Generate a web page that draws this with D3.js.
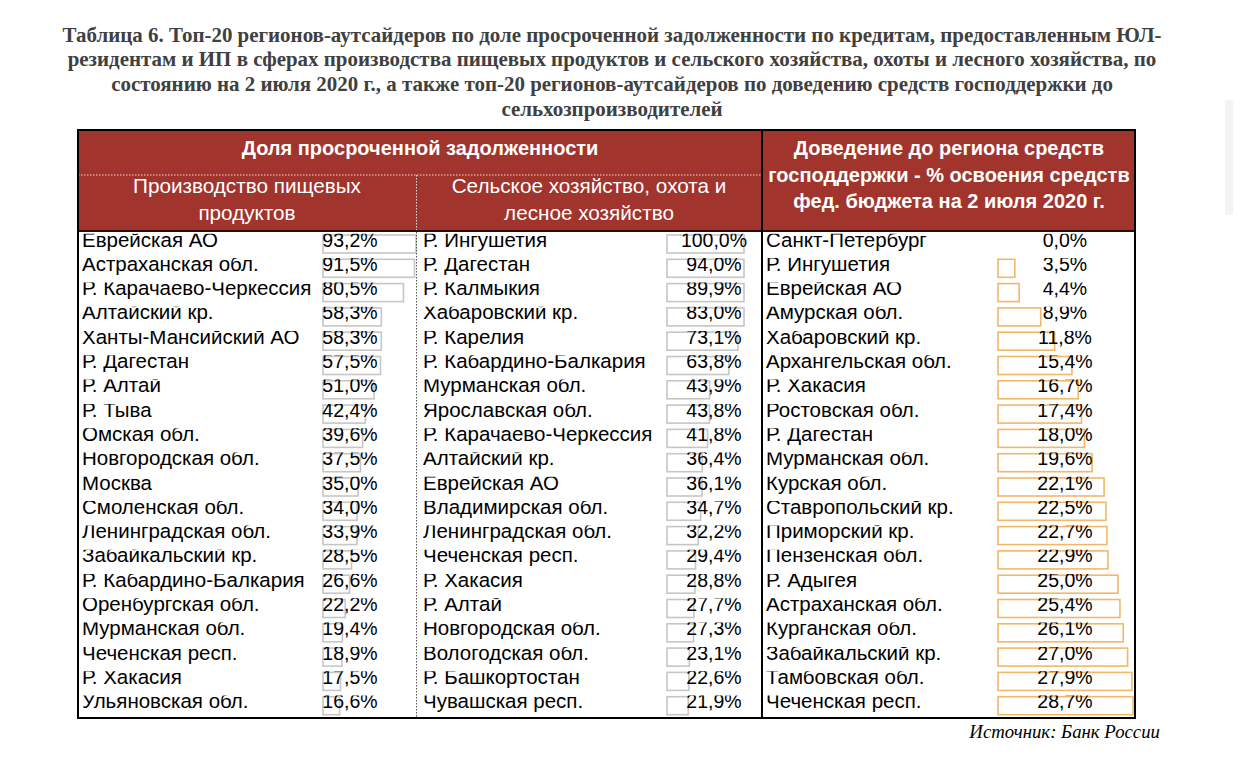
<!DOCTYPE html>
<html><head><meta charset="utf-8">
<script src="https://cdn.jsdelivr.net/npm/d3@7"></script>
<style>body{margin:0;background:#fff;overflow:hidden}</style>
</head><body>
<svg id="c" width="1242" height="774"></svg>
<script>
const titleLines = [
  "Таблица 6. Топ-20 регионов-аутсайдеров по доле просроченной задолженности по кредитам, предоставленным ЮЛ-",
  "резидентам и ИП в сферах производства пищевых продуктов и сельского хозяйства, охоты и лесного хозяйства, по",
  "состоянию на 2 июля 2020 г., а также топ-20 регионов-аутсайдеров по доведению средств господдержки до",
  "сельхозпроизводителей"
];
const groupHeader = "Доля просроченной задолженности";
const foodHeader = ["Производство пищевых", "продуктов"];
const agriHeader = ["Сельское хозяйство, охота и", "лесное хозяйство"];
const supportHeader = ["Доведение до региона средств", "господдержки - % освоения средств", "фед. бюджета на 2 июля 2020 г."];
const sourceText = "Источник: Банк России";

const foodRegions = ["Еврейская АО","Астраханская обл.","Р. Карачаево-Черкессия","Алтайский кр.","Ханты-Мансийский АО","Р. Дагестан","Р. Алтай","Р. Тыва","Омская обл.","Новгородская обл.","Москва","Смоленская обл.","Ленинградская обл.","Забайкальский кр.","Р. Кабардино-Балкария","Оренбургская обл.","Мурманская обл.","Чеченская респ.","Р. Хакасия","Ульяновская обл."];
const foodValues = [93.2,91.5,80.5,58.3,58.3,57.5,51.0,42.4,39.6,37.5,35.0,34.0,33.9,28.5,26.6,22.2,19.4,18.9,17.5,16.6];

const agriRegions = ["Р. Ингушетия","Р. Дагестан","Р. Калмыкия","Хабаровский кр.","Р. Карелия","Р. Кабардино-Балкария","Мурманская обл.","Ярославская обл.","Р. Карачаево-Черкессия","Алтайский кр.","Еврейская  АО","Владимирская обл.","Ленинградская обл.","Чеченская респ.","Р. Хакасия","Р. Алтай","Новгородская обл.","Вологодская обл.","Р. Башкортостан","Чувашская респ."];
const agriValues = [100.0,94.0,89.9,83.0,73.1,63.8,43.9,43.8,41.8,36.4,36.1,34.7,32.2,29.4,28.8,27.7,27.3,23.1,22.6,21.9];

const supportRegions = ["Санкт-Петербург","Р. Ингушетия","Еврейская АО","Амурская обл.","Хабаровский кр.","Архангельская обл.","Р. Хакасия","Ростовская обл.","Р. Дагестан","Мурманская обл.","Курская обл.","Ставропольский кр.","Приморский кр.","Пензенская обл.","Р. Адыгея","Астраханская обл.","Курганская обл.","Забайкальский кр.","Тамбовская обл.","Чеченская респ."];
const supportValues = [0.0,3.5,4.4,8.9,11.8,15.4,16.7,17.4,18.0,19.6,22.1,22.5,22.7,22.9,25.0,25.4,26.1,27.0,27.9,28.7];

const svg = d3.select("#c");
const RED = "#a1342c";
const L = 78, R = 1135, T = 130, HB = 232, B = 718, D1 = 416.5, D2 = 762, H1 = 175;
const sans = "'Liberation Sans', Arial, sans-serif";
const serif = "'Liberation Serif', 'Times New Roman', serif";

// title
const tt = svg.append("g").selectAll("text").data(titleLines).join("text")
  .attr("x", 612).attr("y", (d,i) => 41.5 + i*24.7)
  .attr("text-anchor", "middle")
  .attr("font-family", serif).attr("font-weight", "bold")
  .attr("font-size", 20).attr("fill", "#404040")
  .text(d => d);
const w0 = tt.node().getComputedTextLength();
tt.attr("font-size", 20 * 1100 / w0);

// rows
const rows = d3.scaleBand().domain(d3.range(20)).range([HB, B]);
const fmt = v => d3.format(".1f")(v).replace(".", ",") + "%";

const defs = svg.append("defs");
defs.selectAll("clipPath").data(d3.range(20)).join("clipPath")
  .attr("id", i => "row" + i)
  .append("rect").attr("x", L).attr("width", R - L)
  .attr("y", i => rows(i) + 1.8).attr("height", rows.bandwidth());

const cols = [
  {regions: foodRegions, values: foodValues, lx: 82, x0: 323, scale: d3.scaleLinear().domain([0,100]).range([0,100]), maxW: 93, vx: 350, stroke: "#c6c6c6"},
  {regions: agriRegions, values: agriValues, lx: 423, x0: 667, scale: d3.scaleLinear().domain([0,100]).range([0,97]), maxW: 77, vx: 714, stroke: "#c6c6c6"},
  {regions: supportRegions, values: supportValues, lx: 766, x0: 998, scale: d3.scaleLinear().domain([0,30]).range([0,144]), maxW: 135, vx: 1065, stroke: "#f0b868"}
];

cols.forEach(c => {
  const g = svg.append("g");
  const items = c.values.map((v, i) => ({v, i, name: c.regions[i]}));
  g.selectAll("rect").data(items.filter(d => d.v > 0)).join("rect")
    .attr("x", c.x0).attr("y", d => rows(d.i) + 3)
    .attr("width", d => Math.min(c.scale(d.v), c.maxW))
    .attr("height", 18)
    .attr("fill", "none").attr("stroke", c.stroke).attr("stroke-width", 1.6);
  g.selectAll("text.r").data(items).join("text").attr("class","r")
    .attr("clip-path", d => `url(#row${d.i})`)
    .attr("x", c.lx).attr("y", d => rows(d.i) + 14.5)
    .attr("font-family", sans).attr("font-size", 20.5).attr("fill", "#000")
    .text(d => d.name);
  g.selectAll("text.v").data(items).join("text").attr("class","v")
    .attr("clip-path", d => `url(#row${d.i})`)
    .attr("x", c.vx).attr("y", d => rows(d.i) + 14.5)
    .attr("text-anchor", "middle")
    .attr("font-family", sans).attr("font-size", 19.5).attr("fill", "#000")
    .text(d => fmt(d.v));
});

// header
svg.append("rect").attr("x", L).attr("y", T).attr("width", R-L).attr("height", HB-T).attr("fill", RED);
svg.append("line").attr("x1", L).attr("x2", D2).attr("y1", H1).attr("y2", H1)
  .attr("stroke", "#e8d8d6").attr("stroke-width", 1).attr("stroke-dasharray", "1.5,1.5");
svg.append("line").attr("x1", D1).attr("x2", D1).attr("y1", H1).attr("y2", HB)
  .attr("stroke", "#e8d8d6").attr("stroke-width", 1).attr("stroke-dasharray", "1.5,1.5");
svg.append("line").attr("x1", D1).attr("x2", D1).attr("y1", HB).attr("y2", B)
  .attr("stroke", "#555").attr("stroke-width", 1).attr("stroke-dasharray", "1.5,1.5");

svg.append("text").attr("x", 420).attr("y", 155).attr("text-anchor", "middle")
  .attr("font-family", sans).attr("font-weight", "bold").attr("font-size", 20).attr("fill", "#fff")
  .text(groupHeader);
const sub = [{lines: foodHeader, x: 247}, {lines: agriHeader, x: 589}];
sub.forEach(s => {
  svg.append("g").selectAll("text").data(s.lines).join("text")
    .attr("x", s.x).attr("y", (d,i) => 193 + i*27).attr("text-anchor", "middle")
    .attr("font-family", sans).attr("font-size", 20.7).attr("fill", "#fff").text(d => d);
});
svg.append("g").selectAll("text").data(supportHeader).join("text")
  .attr("x", 949).attr("y", (d,i) => 155 + i*26.5).attr("text-anchor", "middle")
  .attr("font-family", sans).attr("font-weight", "bold").attr("font-size", 20).attr("fill", "#fff").text(d => d);

// borders
svg.append("line").attr("x1", L).attr("x2", R).attr("y1", HB-1).attr("y2", HB-1).attr("stroke", "#2a0e0c").attr("stroke-width", 2);
svg.append("line").attr("x1", D2).attr("x2", D2).attr("y1", T).attr("y2", B).attr("stroke", "#000").attr("stroke-width", 2);
svg.append("rect").attr("x", L).attr("y", T).attr("width", R-L).attr("height", B-T)
  .attr("fill", "none").attr("stroke", "#000").attr("stroke-width", 2);

// source
svg.append("text").attr("x", 1160).attr("y", 738).attr("text-anchor", "end")
  .attr("font-family", serif).attr("font-style", "italic").attr("font-size", 18.8).attr("fill", "#000")
  .text(sourceText);

// side artifact
svg.append("rect").attr("x", 1225).attr("y", 100).attr("width", 8).attr("height", 115).attr("rx", 3).attr("fill", "#f3f3f3");
</script>
</body></html>
